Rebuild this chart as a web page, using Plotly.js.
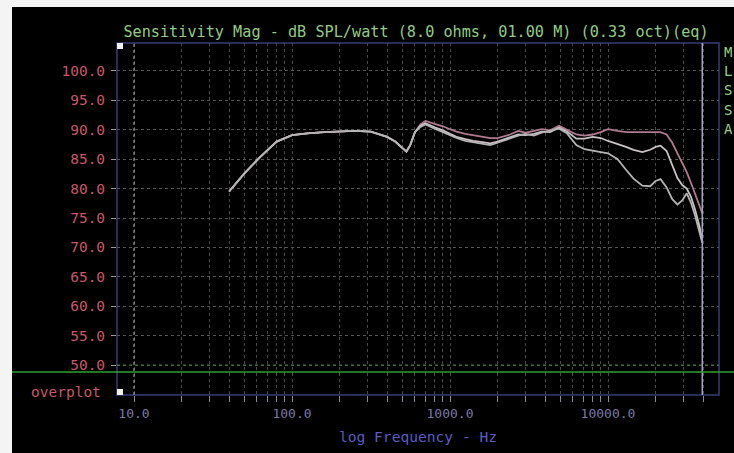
<!DOCTYPE html>
<html>
<head>
<meta charset="utf-8">
<script src="https://cdn.plot.ly/plotly-3.0.1.min.js"></script>
<style>
  html, body { margin: 0; padding: 0; background: #f4f4f4; width: 734px; height: 453px; overflow: hidden; }
  #chart { position: absolute; left: 12px; top: 7px; width: 722px; height: 446px; }
</style>
</head>
<body>
<div id="chart"></div>
<script>
// Frequency points (Hz)
const freq = [40, 50, 63, 80, 100, 125, 160, 200, 250, 315, 400, 450, 500, 530, 560, 600, 650, 700, 800, 900,
  1000, 1100, 1250, 1400, 1600, 1800, 2000, 2200, 2400, 2700, 3000, 3400, 3800, 4300, 4900, 5500, 6300, 7100, 8000, 9000,
  10000, 11500, 13000, 14500, 16500, 18500, 20000, 21500, 23500, 25500, 27500, 29500, 31500, 33500, 35500, 38000, 39500];

// Sensitivity curves (dB SPL/watt), three overplotted measurements
const curveTop = [79.5, 82.6, 85.4, 88.0, 89.1, 89.4, 89.6, 89.7, 89.8, 89.7, 88.8, 88.0, 86.9, 86.3, 87.4, 89.6, 90.9, 91.5, 91.0, 90.6,
  90.1, 89.7, 89.3, 89.1, 88.8, 88.6, 88.6, 88.9, 89.2, 89.8, 89.5, 89.8, 90.1, 89.9, 90.7, 90.0, 89.2, 89.0, 89.2, 89.6,
  90.1, 89.8, 89.6, 89.6, 89.6, 89.5, 89.6, 89.6, 89.2, 87.8, 86.0, 84.4, 82.8, 81.0, 79.2, 77.0, 75.8];
const curveMid = [79.5, 82.6, 85.4, 88.0, 89.1, 89.4, 89.6, 89.7, 89.8, 89.7, 88.8, 88.0, 86.9, 86.3, 87.4, 89.6, 90.7, 91.1, 90.4, 89.9,
  89.3, 88.8, 88.4, 88.1, 87.9, 87.7, 88.0, 88.4, 88.8, 89.2, 89.1, 89.3, 89.7, 89.6, 90.4, 89.7, 88.5, 88.5, 88.8, 88.6,
  88.1, 87.6, 87.1, 86.6, 86.2, 86.6, 87.1, 87.3, 86.4, 84.0, 81.8, 80.6, 80.0, 78.6, 76.5, 73.5, 71.0];
const curveLow = [79.5, 82.6, 85.4, 88.0, 89.1, 89.4, 89.6, 89.7, 89.8, 89.7, 88.8, 88.0, 86.9, 86.3, 87.4, 89.6, 90.5, 90.9, 90.2, 89.6,
  89.0, 88.6, 88.1, 87.9, 87.6, 87.4, 87.8, 88.2, 88.6, 89.0, 89.3, 89.0, 89.5, 89.8, 90.2, 89.4, 87.4, 86.7, 86.4, 86.2,
  86.0, 85.0, 83.2, 81.7, 80.5, 80.4, 81.3, 81.6, 80.2, 78.2, 77.3, 78.0, 79.2, 77.6, 75.5, 72.6, 70.8];

// Axis ticks
const xGridVals = [10, 20, 30, 40, 50, 60, 70, 80, 90, 100, 200, 300, 400, 500, 600, 700, 800, 900,
  1000, 2000, 3000, 4000, 5000, 6000, 7000, 8000, 9000, 10000, 20000, 30000, 40000];
const xLabelled = {10: "10.0", 100: "100.0", 1000: "1000.0", 10000: "10000.0"};
const yTickVals = [50, 55, 60, 65, 70, 75, 80, 85, 90, 95, 100];
const yTickText = ["50.0", "55.0", "60.0", "65.0", "70.0", "75.0", "80.0", "85.0", "90.0", "95.0", "100.0"];
const sideLetters = ["M", "L", "S", "S", "A"];

const mono = "DejaVu Sans Mono, Liberation Mono, monospace";

const traces = [
  {x: freq, y: curveTop, type: "scatter", mode: "lines", line: {color: "#b07a90", width: 1.8}, hoverinfo: "skip"},
  {x: freq, y: curveMid, type: "scatter", mode: "lines", line: {color: "#c8c2c6", width: 1.8}, hoverinfo: "skip"},
  {x: freq, y: curveLow, type: "scatter", mode: "lines", line: {color: "#b4b4b4", width: 1.8}, hoverinfo: "skip"}
];

const W = 722, H = 446, mL = 105, mR = 15, mT = 36, mB = 58;
const pw = W - mL - mR, ph = H - mT - mB;
const px = v => (v - mL) / pw;          // div px -> paper x
const py = v => 1 - (v - mT) / ph;      // div px -> paper y

const annotations = sideLetters.map((ch, i) => ({
  text: ch, xref: "paper", yref: "paper", x: px(716), y: py(45 + i * 19.2),
  xanchor: "center", yanchor: "middle", showarrow: false,
  font: {family: mono, size: 14, color: "#98d088"}
}));
annotations.push({
  text: "overplot", xref: "paper", yref: "paper", x: px(91), y: py(385),
  xanchor: "right", yanchor: "middle", showarrow: false,
  font: {family: mono, size: 14.5, color: "#c8586a"}
});

const shapes = [
  // plot frame
  {type: "rect", xref: "paper", yref: "paper", x0: 0, x1: 1, y0: 0, y1: 1, line: {color: "#2c2c58", width: 2}, layer: "below"},
  // bright dotted line at 10 Hz
  {type: "line", xref: "x", yref: "paper", x0: xGridVals[0], x1: xGridVals[0], y0: 0, y1: 1, line: {color: "#b0b0b0", width: 1, dash: "dot"}},
  // greenish dotted 50 dB line
  {type: "line", xref: "paper", yref: "y", x0: 0, x1: 1, y0: yTickVals[0], y1: yTickVals[0], line: {color: "#3f7a3f", width: 1, dash: "dot"}},
  // cursor line at the end of the data
  {type: "line", xref: "x", yref: "paper", x0: freq[freq.length - 1], x1: freq[freq.length - 1], y0: 0, y1: 1, line: {color: "#a8a0c8", width: 1.5}},
  // green horizontal line across the screen
  {type: "line", xref: "paper", yref: "paper", x0: px(0), x1: px(W), y0: py(365), y1: py(365), line: {color: "#2fa02f", width: 1.5}},
  // white markers
  {type: "rect", xref: "paper", yref: "paper", x0: px(105), x1: px(111), y0: py(36), y1: py(42), fillcolor: "#f0f0f0", line: {width: 0}},
  {type: "rect", xref: "paper", yref: "paper", x0: px(105), x1: px(111), y0: py(382), y1: py(388), fillcolor: "#f0f0e0", line: {width: 0}}
];

const layout = {
  width: W, height: H,
  margin: {l: mL, r: mR, t: mT, b: mB, pad: 0},
  paper_bgcolor: "#000000",
  plot_bgcolor: "#000000",
  showlegend: false,
  title: {
    text: "Sensitivity Mag - dB SPL/watt (8.0 ohms, 01.00 M) (0.33 oct)(eq)",
    font: {family: mono, size: 15.2, color: "#90cc88"},
    xref: "container", yref: "container", x: 404 / W, y: 1 - 25 / H,
    xanchor: "center", yanchor: "middle"
  },
  xaxis: {
    type: "log",
    range: [0.8924, 4.7025],
    tickmode: "array",
    tickvals: xGridVals,
    ticktext: xGridVals.map(v => xLabelled[v] || ""),
    ticks: "outside", ticklen: 6, tickcolor: "#8a8aa0", tickwidth: 1,
    tickfont: {family: mono, size: 13, color: "#7a78a8"},
    showgrid: true, gridcolor: "#4a4a4a", griddash: "dot", gridwidth: 1,
    zeroline: false, showline: false,
    title: {text: "log Frequency - Hz", font: {family: mono, size: 14.6, color: "#5c5cc0"}, standoff: 12}
  },
  yaxis: {
    range: [44.9, 104.76],
    tickmode: "array",
    tickvals: yTickVals,
    ticktext: yTickText,
    ticks: "outside", ticklen: 5, tickcolor: "#9a9a9a", tickwidth: 1,
    ticklabelstandoff: 3,
    tickfont: {family: mono, size: 14.5, color: "#c8586a"},
    showgrid: true, gridcolor: "#555555", griddash: "dot", gridwidth: 1,
    zeroline: false, showline: false
  },
  annotations: annotations,
  shapes: shapes
};

Plotly.newPlot("chart", traces, layout, {displayModeBar: false, staticPlot: true});
</script>
</body>
</html>
